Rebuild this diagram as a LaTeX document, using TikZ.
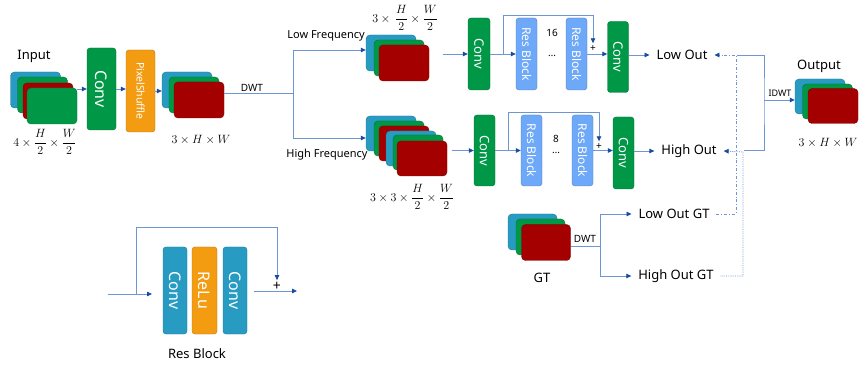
\documentclass[tikz,border=0pt]{standalone}
\usepackage{fontspec}
\setmainfont{Noto Sans}
\usetikzlibrary{arrows.meta,calc}
\definecolor{cgreen}{RGB}{0,152,70}
\definecolor{cred}{RGB}{165,0,0}
\definecolor{cblue}{RGB}{40,155,195}
\definecolor{corange}{RGB}{243,156,18}
\definecolor{cres}{RGB}{110,168,248}
\definecolor{lineblue}{RGB}{110,150,212}
\definecolor{tipblue}{RGB}{25,75,160}
\begin{document}
\begin{tikzpicture}[x=1pt,y=-1pt,
  layer/.style={rounded corners=4pt, draw=#1!75!black, fill=#1, line width=0.4pt,
    minimum width=50pt, minimum height=36pt, inner sep=0pt},
  hlayer/.style={layer=#1, minimum height=35pt},
  box/.style={rounded corners=3pt, draw=#1!75!black, fill=#1, line width=0.4pt,
    inner sep=0pt, text=white},
  ln/.style={draw=lineblue, line width=0.8pt},
  arr/.style={ln, -{Triangle[length=5pt,width=4.5pt,color=tipblue]}},
  lbl/.style={font=\fontsize{13}{15}\selectfont, inner sep=2pt, outer sep=5pt},
  small/.style={font=\fontsize{10}{12}\selectfont, inner sep=1pt},
  mth/.style={font=\fontsize{11.5}{13}\selectfont, inner sep=1pt},
  plus/.style={font=\fontsize{10}{12}\selectfont, inner sep=2.5pt}
]
\useasboundingbox (0,0) rectangle (860,366);

% ---------------- Input
\node[lbl] (inputlbl) at (34,56) {Input};
\node[layer=cblue]  (in1) at (35.5,90) {};
\node[layer=cgreen] (in2) at (42.5,95) {};
\node[layer=cred]   (in3) at (48,101) {};
\node[layer=cgreen] (in4) at (52,106) {};
\node[mth] (indim) at (45,142) {$\displaystyle 4\times\frac{H}{2}\times\frac{W}{2}$};

\node[box=cgreen, minimum width=29pt, minimum height=82pt] (conv1) at (101.5,89)
  {\rotatebox{-90}{\fontsize{16}{18}\selectfont Conv}};
\node[box=corange, minimum width=29pt, minimum height=82pt] (ps) at (140.5,91)
  {\rotatebox{-90}{\fontsize{10.5}{12}\selectfont PixelShuffle}};

\node[layer=cblue]  (s2b) at (187,90) {};
\node[layer=cgreen] (s2g) at (194,95) {};
\node[layer=cred]   (s2r) at (199,100) {};
\node[mth, font=\fontsize{12}{14}\selectfont] (s2dim) at (201,140) {$3\times H\times W$};

\draw[arr] (in4.east |- conv1.west) -- (conv1.west);
\draw[arr] (conv1.east) -- (conv1.east -| ps.west);
\draw[arr] (ps.east) -- (ps.east -| s2b.west);

% ---------------- DWT split
\coordinate (br) at (293,93);
\draw[ln] ([yshift=7pt]s2r.east) -- (br);
\node[small] (dwt1) at (252,88) {DWT};

% low stack
\node[layer=cblue]  (lb) at (391,53) {};
\node[layer=cgreen] (lg) at (399,58) {};
\node[layer=cred]   (lr) at (404,63) {};
\node[font=\fontsize{11}{13}\selectfont, inner sep=1pt] (lowfreq) at (326,36) {Low Frequency};
\node[mth] (lowdim) at (405,18) {$\displaystyle 3\times\,\frac{H}{2}\times\frac{W}{2}$};

% high stack
\node[hlayer=cblue]  (hb1) at (391,133.5) {};
\node[hlayer=cgreen] (hg1) at (399,138.5) {};
\node[hlayer=cred]   (hr1) at (404,143.5) {};
\node[hlayer=cblue]  (hb2) at (411,148.5) {};
\node[hlayer=cgreen] (hg2) at (418,152.5) {};
\node[hlayer=cred]   (hr2) at (422,158.5) {};
\node[font=\fontsize{11}{13}\selectfont, inner sep=1pt] (highfreq) at (327,155) {High Frequency};
\node[mth] (highdim) at (412,197) {$\displaystyle 3\times3\times\frac{H}{2}\times\frac{W}{2}$};

\draw[arr] (br) |- ([yshift=3pt]lb.west);
\draw[arr] (br) |- ([yshift=-4.5pt]hb1.west);

% ---------------- Low branch
\node[box=cgreen, minimum width=22pt, minimum height=72pt] (lconv) at (479,54)
  {\rotatebox{-90}{\fontsize{13}{15}\selectfont Conv}};
\node[box=cres, minimum width=21pt, minimum height=72pt] (lrb1) at (526.5,54)
  {\rotatebox{-90}{\fontsize{12}{14}\selectfont Res Block}};
\node[box=cres, minimum width=21pt, minimum height=72pt] (lrb2) at (576.5,54)
  {\rotatebox{-90}{\fontsize{12}{14}\selectfont Res Block}};
\node[box=cgreen, minimum width=21pt, minimum height=71pt] (lconv2) at (618,57)
  {\rotatebox{-90}{\fontsize{13}{15}\selectfont Conv}};
\node[small] (l16) at (552,33) {16};
\node[small] (ldots) at (552,56) {…};
\node[plus] (lplus) at (593,49) {+};
\node[lbl] (lowout) at (682,55) {Low Out};

\coordinate (ls) at (443,54);
\draw[arr] (ls) -- (lconv.west);
\draw[arr] (lconv.east) -- (lrb1.west);
\coordinate (lsk) at (503,54);
\draw[arr] (lsk) -- ++(0,-39) -| (lplus.north);
\draw[arr] (lrb2.east) -- (lrb2.east -| lconv2.west);
\draw[arr] (lconv2.east |- lowout.west) -- (lowout.west);

% ---------------- High branch
\node[box=cgreen, minimum width=21pt, minimum height=71pt] (hconv) at (484.5,150.5)
  {\rotatebox{-90}{\fontsize{13}{15}\selectfont Conv}};
\node[box=cres, minimum width=21pt, minimum height=71pt] (hrb1) at (531.5,150.5)
  {\rotatebox{-90}{\fontsize{12}{14}\selectfont Res Block}};
\node[box=cres, minimum width=21pt, minimum height=71pt] (hrb2) at (582.5,150.5)
  {\rotatebox{-90}{\fontsize{12}{14}\selectfont Res Block}};
\node[box=cgreen, minimum width=21pt, minimum height=72pt] (hconv2) at (623.5,153)
  {\rotatebox{-90}{\fontsize{13}{15}\selectfont Conv}};
\node[small] (h8) at (556,139) {8};
\node[small] (hdots) at (556,153) {…};
\node[plus] (hplus) at (599,147) {+};
\node[lbl] (highout) at (689,151) {High Out};

\coordinate (hs) at (452,150.5);
\draw[arr] (hs) -- (hconv.west);
\draw[arr] (hconv.east) -- (hrb1.west);
\coordinate (hsk) at (508,150.5);
\draw[arr] (hsk) -- ++(0,-38.5) -| (hplus.north);
\draw[arr] (hrb2.east) -- (hrb2.east -| hconv2.west);
\draw[arr] (hconv2.east |- highout.west) -- (highout.west);

% ---------------- Output
\node[lbl] (outputlbl) at (819,66) {Output};
\node[layer=cblue, minimum height=35pt]  (ob) at (820,96.5) {};
\node[layer=cgreen, minimum height=35pt] (og) at (827.5,101.5) {};
\node[layer=cred, minimum height=35pt]   (orr) at (833,106) {};
\node[mth, font=\fontsize{12}{14}\selectfont] (odim) at (828,143) {$3\times H\times W$};

\coordinate (idwt) at (764,100);
\draw[ln] (737,55) -| (idwt) |- (744,150);
\draw[arr] (idwt) -- (idwt -| ob.west);
\node[font=\fontsize{9}{11}\selectfont, inner sep=1pt] (idwtlbl) at (780,93) {IDWT};

% ---------------- GT
\node[layer=cblue, minimum width=49pt]  (gb) at (532.5,232) {};
\node[layer=cgreen, minimum width=49pt] (gg) at (540.5,237) {};
\node[layer=cred, minimum width=49pt]   (gr) at (546,242.5) {};
\node[lbl] (gtlbl) at (542,278) {GT};
\node[small] (dwt2) at (585,239) {DWT};
\node[lbl] (lowgt) at (674,214) {Low Out GT};
\node[lbl] (highgt) at (676,276) {High Out GT};

\coordinate (gbr) at (600,246);
\draw[ln] ([yshift=-3.5pt]gr.east) -- (gbr);
\draw[arr] (gbr) |- (lowgt.west);
\draw[arr] (gbr) |- (highgt.west);

\draw[arr, dash dot] (lowgt.east) -- (736,214) -- (736,55) -- (lowout.east);
\draw[arr, densely dotted] (highgt.east) -- (743,276) -- (743,152) -- (highout.east);

% ---------------- Res Block detail
\node[box=cblue, minimum width=24pt, minimum height=87pt] (rc1) at (175,290.5)
  {\rotatebox{-90}{\fontsize{16}{18}\selectfont Conv}};
\node[box=corange, minimum width=25pt, minimum height=87pt] (rrl) at (204.5,290.5)
  {\rotatebox{-90}{\fontsize{16}{18}\selectfont ReLu}};
\node[box=cblue, minimum width=24pt, minimum height=87pt] (rc2) at (235,290.5)
  {\rotatebox{-90}{\fontsize{16}{18}\selectfont Conv}};
\node[font=\fontsize{14}{16}\selectfont\bfseries, inner sep=1.5pt] (rplus) at (277,286) {+};
\node[lbl] (rblbl) at (197,354) {Res Block};

\coordinate (rin) at (108,294);
\coordinate (rtip) at (152,294);
\coordinate (rsk) at (136,294);
\coordinate (rout0) at (254,291);
\coordinate (rout1) at (297,291);
\draw[arr] (rin) -- (rtip);
\draw[arr] (rsk) -- ++(0,-67) -| (rplus.north);
\draw[arr] (rout0) -- (rout1);
\end{tikzpicture}
\end{document}
